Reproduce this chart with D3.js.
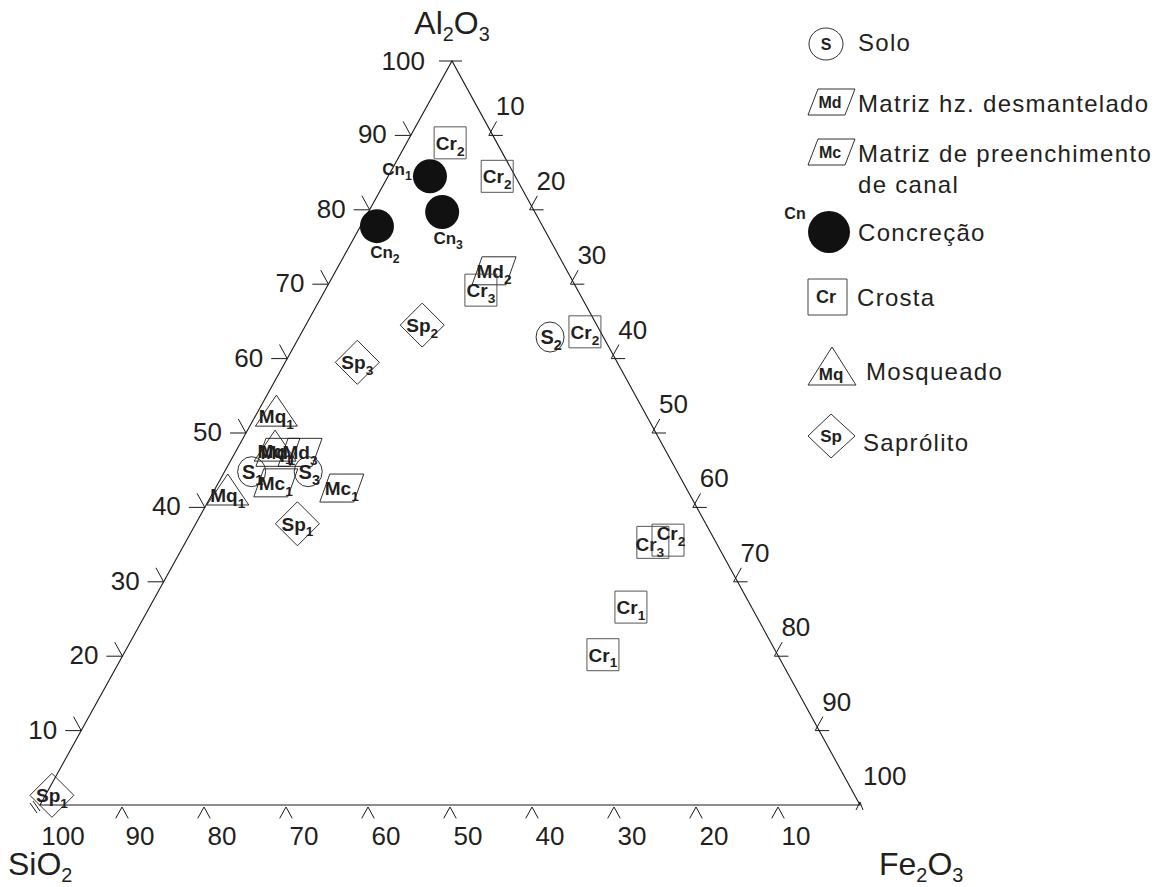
<!DOCTYPE html>
<html><head><meta charset="utf-8">
<script src="https://cdn.jsdelivr.net/npm/d3@7"></script>
<style>
body{margin:0;background:#fff}
svg{display:block}
text{font-family:"Liberation Sans",Arial,Helvetica,sans-serif;fill:#231f20}
</style>
</head><body>
<svg id="c" width="1174" height="887"></svg>
<script>
// ---------------- DATA ----------------
const sampleType = ["S","S","S","Md","Md","Md","Mc","Mc","Mq","Mq","Mq","Cn","Cn","Cn","Cr","Cr","Cr","Cr","Cr","Cr","Cr","Cr","Sp","Sp","Sp","Sp"];
const sampleSub  = ["1","3","2","1","2","3","1","1","1","1","1","1","2","3","2","2","3","2","3","2","1","1","2","3","1","1"];
const sio2  = [51.9,45.0, 6.5,47.4, 8.9,44.7,49.7,42.0,45.1,47.6,56.3,10.4,20.2,11.3, 5.7, 2.2,11.8, 1.9, 7.7, 5.7,14.7,21.3,21.3,31.7,49.8,97.9];
const al2o3 = [44.8,44.8,62.9,47.4,71.8,47.4,43.3,42.6,52.4,47.7,41.8,84.5,77.8,79.7,89.0,84.5,69.2,63.6,35.3,35.6,26.6,20.2,64.5,59.5,37.8, 1.3];
const fe2o3 = [ 3.3,10.2,30.6, 5.2,19.3, 7.9, 7.0,15.4, 2.5, 4.7, 1.9, 5.1, 2.0, 9.0, 5.3,13.3,19.0,34.5,57.0,58.7,58.7,58.5,14.2, 8.8,12.4, 0.8];

const legendCodes  = ["S","Md","Mc","Cn","Cr","Mq","Sp"];
const legendLabels = [["Solo"],["Matriz hz. desmantelado"],["Matriz de preenchimento","de canal"],["Concreção"],["Crosta"],["Mosqueado"],["Saprólito"]];

const tickValues = [10,20,30,40,50,60,70,80,90,100];
const tickLabels = ["10","20","30","40","50","60","70","80","90","100"];

// ---------------- GEOMETRY ----------------
const svg = d3.select("#c");
const corner = {L:[40,805], T:[452,61], R:[860,805]};
const xAl = d3.scaleLinear().domain([0,100]).range([0, corner.T[0]-corner.L[0]]);
const xFe = d3.scaleLinear().domain([0,100]).range([0, corner.R[0]-corner.L[0]]);
const yAl = d3.scaleLinear().domain([0,100]).range([corner.L[1], corner.T[1]]);
function proj(si, al, fe){
  const t = si+al+fe;
  const a = al/t*100, f = fe/t*100;
  return [corner.L[0] + xAl(a) + xFe(f), yAl(a)];
}
const ink = "#1a1a1a";

// triangle
const g = svg.append("g");
g.append("path")
  .attr("d", d3.line()([proj(100,0,0), proj(0,100,0), proj(0,0,100)]) + "Z")
  .attr("fill","none").attr("stroke",ink).attr("stroke-width",1.1);

function unit(v){const l=Math.hypot(v[0],v[1]);return [v[0]/l,v[1]/l];}
const dirRight = unit([corner.R[0]-corner.T[0], corner.R[1]-corner.T[1]]);
const dirLeft  = unit([corner.T[0]-corner.L[0], corner.T[1]-corner.L[1]]);

const ticks = g.append("g").attr("stroke",ink).attr("stroke-width",1).attr("fill","none");
const labels = g.append("g").attr("font-size",26);

tickValues.forEach((v,i)=>{
  const P = proj(100-v, v, 0);
  if (v < 100){
    ticks.append("path").attr("d", d3.line()([[P[0]-16,P[1]],[P[0],P[1]],[P[0]-dirRight[0]*16,P[1]-dirRight[1]*16]]));
    labels.append("text").attr("x",P[0]-24).attr("y",P[1]+8).attr("text-anchor","end").text(tickLabels[i]);
  } else {
    ticks.append("path").attr("d", d3.line()([[P[0]-13,P[1]],[P[0]+10,P[1]]]));
    labels.append("text").attr("x",P[0]-27).attr("y",P[1]+9).attr("text-anchor","end").text(tickLabels[i]);
  }
  const Q = proj(0, 100-v, v);
  if (v < 100){
    const V=[Q[0]-4,Q[1]];
    ticks.append("path").attr("d", d3.line()([[V[0]+dirLeft[0]*16,V[1]+dirLeft[1]*16],V,[V[0]+14,V[1]]]));
  } else {
    ticks.append("path").attr("d", d3.line()([[Q[0]-4,Q[1]+5],[Q[0],Q[1]-3],[Q[0]+3,Q[1]+5]]));
  }
  labels.append("text").attr("x",Q[0]+3).attr("y",Q[1]-20).text(tickLabels[i]);
  const B = proj(v, 0, 100-v);
  if (v < 100){
    ticks.append("path").attr("d", d3.line()([[B[0]-dirLeft[0]*13,B[1]+2-dirLeft[1]*13],[B[0],B[1]+2],[B[0]+dirRight[0]*13,B[1]+2+dirRight[1]*13]]));
  } else {
    ticks.append("path").attr("d", `M${B[0]-10},${B[1]-2}l7,10M${B[0]-7},${B[1]-4}l7,10`);
  }
  labels.append("text").attr("x",B[0]+(v<100?18:23)).attr("y",B[1]+40).attr("text-anchor","middle").text(tickLabels[i]);
});

function chem(parent, x, y, parts, size, anchor){
  const t = parent.append("text").attr("x",x).attr("y",y).attr("font-size",size).attr("text-anchor",anchor||"start");
  parts.forEach(p=>{
    if (p.sub) t.append("tspan").attr("font-size",size*0.62).attr("dy",size*0.22).text(p.s);
    else t.append("tspan").attr("dy", p.after? -size*0.22:0).text(p.s);
  });
  return t;
}
chem(svg, corner.T[0], 34, [{s:"Al"},{s:"2",sub:1},{s:"O",after:1},{s:"3",sub:1}], 32, "middle");
chem(svg, 8, 875, [{s:"SiO"},{s:"2",sub:1}], 32, "start");
chem(svg, 879, 875, [{s:"Fe"},{s:"2",sub:1},{s:"O",after:1},{s:"3",sub:1}], 32, "start");

// ---------------- MARKERS ----------------
function shapePath(type, cx, cy){
  switch(type){
    case "Md": case "Mc":
      return `M${cx-12},${cy-14}L${cx+22},${cy-14}L${cx+12},${cy+14}L${cx-22},${cy+14}Z`;
    case "Cr":
      return `M${cx-16},${cy-16}h32v32h-32Z`;
    case "Mq":
      return `M${cx},${cy-20}L${cx+21},${cy+11}L${cx-21},${cy+11}Z`;
    case "Sp":
      return `M${cx},${cy-22}L${cx+22},${cy}L${cx},${cy+22}L${cx-22},${cy}Z`;
  }
  return null;
}
function label(parent, x, y, main, sub, size){
  const t = parent.append("text").attr("x",x).attr("y",y).attr("text-anchor","middle")
    .attr("font-weight","bold").attr("font-size",size).attr("fill","#1a1a1a");
  t.append("tspan").text(main);
  if (sub) t.append("tspan").attr("font-size",size*0.72).attr("dy",size*0.3).text(sub);
  return t;
}
const cnLabelOffset = {"1":[-33,-1],"2":[8,32],"3":[6,32]};
const labelNudge = {18:[-3,2], 19:[3,-7]};

const mk = svg.append("g");
sampleType.forEach((type,i)=>{
  const [cx,cy] = proj(sio2[i], al2o3[i], fe2o3[i]);
  const sg = mk.append("g");
  const n = labelNudge[i] || [0,0];
  if (type === "S"){
    sg.append("ellipse").attr("cx",cx).attr("cy",cy).attr("rx",14).attr("ry",15)
      .attr("fill","none").attr("stroke",ink).attr("stroke-width",0.9);
    label(sg, cx+1, cy+7, "S", sampleSub[i], 20);
  } else if (type === "Cn"){
    sg.append("circle").attr("cx",cx).attr("cy",cy).attr("r",17).attr("fill","#111");
    const o = cnLabelOffset[sampleSub[i]];
    label(sg, cx+o[0], cy+o[1], "Cn", sampleSub[i], 17);
  } else {
    sg.append("path").attr("d",shapePath(type,cx,cy)).attr("fill","none")
      .attr("stroke", type==="Cr" ? "#444" : ink).attr("stroke-width",0.9);
    const ly = type==="Mq" ? cy+8 : cy+7;
    label(sg, cx+n[0], ly+n[1], type, sampleSub[i], 19);
  }
});

// ---------------- LEGEND ----------------
const lg = svg.append("g");
const legendY = [44, 102, 152, 232, 297, 370, 436];
const textBase = [51, 112, 162, 241, 306, 380, 451];
const textX = [858, 858, 858, 858, 857, 866, 863];
legendCodes.forEach((code,i)=>{
  const cy = legendY[i], cx = 831;
  if (code === "S"){
    lg.append("ellipse").attr("cx",826).attr("cy",cy).attr("rx",17).attr("ry",16)
      .attr("fill","none").attr("stroke",ink).attr("stroke-width",0.9);
    label(lg, 826, cy+6, "S", null, 16);
  } else if (code === "Cn"){
    lg.append("circle").attr("cx",829).attr("cy",cy).attr("r",21).attr("fill","#111");
    label(lg, 795, cy-13, "Cn", null, 16);
  } else if (code === "Md" || code === "Mc"){
    lg.append("path").attr("d",`M${cx-13},${cy-13}L${cx+24},${cy-13}L${cx+14},${cy+13}L${cx-23},${cy+13}Z`)
      .attr("fill","none").attr("stroke",ink).attr("stroke-width",0.9);
    label(lg, cx-1, cy+6, code, null, 16);
  } else if (code === "Cr"){
    lg.append("path").attr("d",`M808,${cy-18}h39v36h-39Z`).attr("fill","none").attr("stroke","#444").attr("stroke-width",1);
    label(lg, 826, cy+6, code, null, 18);
  } else if (code === "Mq"){
    lg.append("path").attr("d",`M${cx+1},${cy-23}L${cx+25},${cy+15}L${cx-23},${cy+15}Z`)
      .attr("fill","none").attr("stroke",ink).attr("stroke-width",0.9);
    label(lg, cx, cy+10, code, null, 17);
  } else if (code === "Sp"){
    lg.append("path").attr("d",`M${cx},${cy-22}L${cx+24},${cy}L${cx},${cy+22}L${cx-23},${cy}Z`)
      .attr("fill","none").attr("stroke",ink).attr("stroke-width",0.9);
    label(lg, cx, cy+6, code, null, 17);
  }
  legendLabels[i].forEach((line,j)=>{
    lg.append("text").attr("x",textX[i]).attr("y",textBase[i]+j*31)
      .attr("font-size",24).attr("letter-spacing",1.3).text(line);
  });
});
</script>
</body></html>
